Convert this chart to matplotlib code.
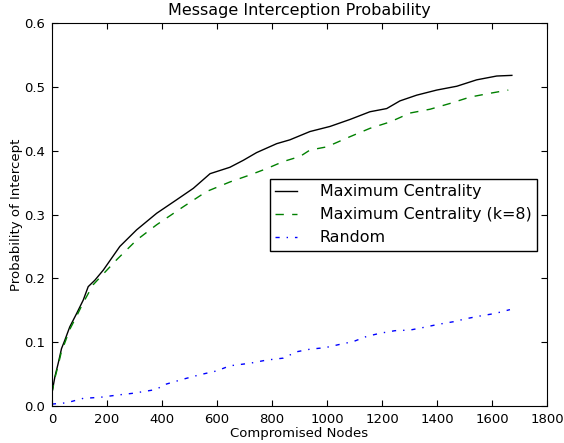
import matplotlib
matplotlib.use("Agg")
import matplotlib.pyplot as plt

# compromised nodes vs probability of intercept
maxX = [0, 11, 23, 35, 47, 65, 90, 114, 132, 156, 187, 247, 308, 381, 453, 514, 575,
        647, 696, 744, 817, 865, 938, 1011, 1084, 1156, 1217, 1265, 1326, 1399,
        1472, 1544, 1617, 1672]
maxY = [0.020, 0.046, 0.067, 0.090, 0.103, 0.124, 0.145, 0.166, 0.187, 0.197, 0.213,
        0.250, 0.276, 0.302, 0.323, 0.341, 0.364, 0.374, 0.385, 0.397, 0.411, 0.417,
        0.430, 0.438, 0.449, 0.461, 0.466, 0.478, 0.487, 0.495, 0.501, 0.511,
        0.517, 0.518]

k8X = [0, 11, 23, 35, 47, 65, 90, 114, 150, 235, 308, 381, 477, 562, 647, 720, 781,
       841, 902, 938, 999, 1084, 1156, 1229, 1302, 1375, 1447, 1520, 1593, 1659]
k8Y = [0.020, 0.044, 0.064, 0.086, 0.099, 0.120, 0.141, 0.162, 0.190, 0.229, 0.260,
       0.284, 0.312, 0.336, 0.351, 0.362, 0.372, 0.383, 0.391, 0.401, 0.406, 0.422,
       0.435, 0.445, 0.459, 0.465, 0.474, 0.484, 0.490, 0.495]

randX = [0, 53, 114, 175, 235, 296, 381, 405, 477, 538, 599, 647, 720, 781, 841,
         890, 938, 993, 1047, 1096, 1144, 1193, 1247, 1302, 1350, 1405, 1459, 1508,
         1556, 1611, 1665]
randY = [0.003, 0.005, 0.012, 0.0136, 0.017, 0.020, 0.026, 0.033, 0.042, 0.049, 0.055,
         0.063, 0.067, 0.072, 0.075, 0.085, 0.089, 0.0914, 0.0966, 0.101, 0.109,
         0.114, 0.118, 0.119, 0.123, 0.128, 0.132, 0.137, 0.141, 0.145, 0.151]

fig = plt.figure(figsize=(5.64, 4.43), dpi=100)
ax = fig.add_axes([0.092, 0.0835, 0.878, 0.8645])

# old-style dash patterns
ax.plot(maxX, maxY, color="black", linestyle="-", linewidth=1, label="Maximum Centrality")
ax.plot(k8X, k8Y, color="#008000", linestyle=(0, (6, 6)), linewidth=1,
        label="Maximum Centrality (k=8)")
ax.plot(randX, randY, color="blue", linestyle=(0, (3, 5, 1, 5)), linewidth=1, label="Random")

ax.set_xlim(0, 1800)
ax.set_ylim(0, 0.6)
ax.set_xticks(range(0, 1801, 200))
ax.set_yticks([0.0, 0.1, 0.2, 0.3, 0.4, 0.5, 0.6])
ax.tick_params(direction="in", top=True, right=True, length=4, labelsize=9.5, pad=5)

ax.set_title("Message Interception Probability", fontsize=11.5)
ax.set_xlabel("Compromised Nodes", fontsize=9.5, labelpad=1)
ax.set_ylabel("Probability of Intercept", fontsize=9.5, labelpad=1)

leg = ax.legend(loc="center left", bbox_to_anchor=(0.44, 0.499), fontsize=11.4,
                fancybox=False, framealpha=1, edgecolor="black", borderpad=0.35,
                handlelength=1.4, handletextpad=1.4, labelspacing=0.5, borderaxespad=0)
leg.get_frame().set_linewidth(1)

fig.savefig("out.png", dpi=100)
